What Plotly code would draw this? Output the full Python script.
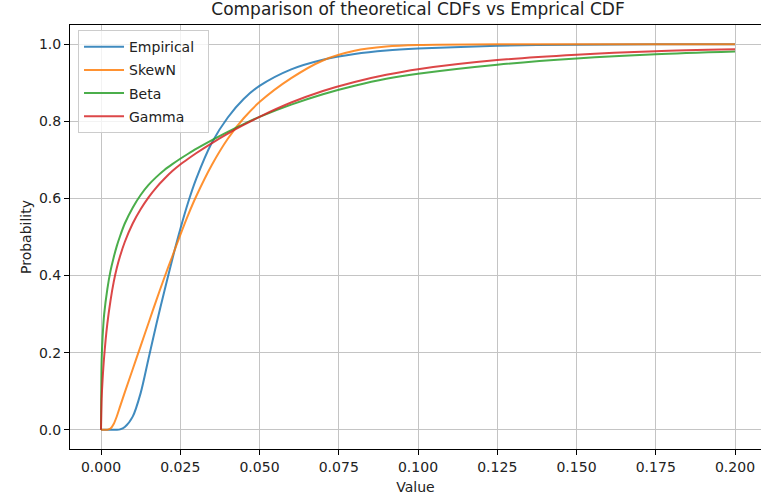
import plotly.graph_objects as go

# x grid (Value)
values = [0, 0.0002, 0.0005, 0.001, 0.002, 0.003, 0.004, 0.005, 0.006, 0.0075,
          0.01, 0.0125, 0.015, 0.0175, 0.02, 0.0225, 0.025, 0.0275, 0.03, 0.035,
          0.04, 0.045, 0.05, 0.06, 0.07, 0.08, 0.09, 0.1, 0.125, 0.15, 0.175, 0.2]

empirical = [0, 0, 0, 0, 0, 0, 0, 0, 0.001, 0.007,
             0.034, 0.095, 0.185, 0.275, 0.36, 0.4425, 0.52, 0.59, 0.65, 0.745,
             0.81, 0.858, 0.892, 0.935, 0.96, 0.975, 0.984, 0.989, 0.996, 0.999, 1.0, 1.0]

skewn = [0, 0, 0, 0, 0, 0.003, 0.015, 0.035, 0.06, 0.097,
         0.157, 0.217, 0.277, 0.337, 0.395, 0.45, 0.505, 0.5575, 0.605, 0.6875,
         0.755, 0.808, 0.85, 0.912, 0.958, 0.983, 0.994, 0.998, 1.0, 1.0, 1.0, 1.0]

beta = [0, 0.18, 0.24, 0.3, 0.365, 0.412, 0.447, 0.477, 0.502, 0.535,
        0.576, 0.609, 0.635, 0.656, 0.674, 0.689, 0.703, 0.716, 0.7285, 0.7515,
        0.773, 0.793, 0.8115, 0.8435, 0.8705, 0.8925, 0.9105, 0.9235, 0.947, 0.963, 0.974, 0.981]

gamma = [0, 0.08, 0.13, 0.19, 0.275, 0.335, 0.383, 0.42, 0.45, 0.487,
         0.535, 0.572, 0.603, 0.629, 0.651, 0.671, 0.688, 0.703, 0.7173, 0.7438,
         0.7683, 0.7908, 0.8118, 0.8488, 0.8788, 0.9023, 0.9208, 0.9353, 0.959, 0.973, 0.982, 0.987]

series_names = ["Empirical", "SkewN", "Beta", "Gamma"]
series_values = [empirical, skewn, beta, gamma]
colors = ["#1f77b4", "#ff7f0e", "#2ca02c", "#d62728"]

x_ticks = [0, 0.025, 0.05, 0.075, 0.1, 0.125, 0.15, 0.175, 0.2]
y_ticks = [0.0, 0.2, 0.4, 0.6, 0.8, 1.0]

FONT = "DejaVu Sans"
TXT = "#222222"

fig = go.Figure()
for name, ys, c in zip(series_names, series_values, colors):
    label = name + "\u00a0\u00a0" if name == "Empirical" else name
    fig.add_trace(go.Scatter(
        x=values, y=ys, mode="lines", name=label, legendgroup=name,
        line=dict(color=c, width=2, shape="spline", smoothing=0.8),
        opacity=0.85,
    ))

fig.update_layout(
    width=761, height=504,
    margin=dict(l=70, r=0, t=25, b=55),
    paper_bgcolor="white", plot_bgcolor="white",
    font=dict(family=FONT, size=14, color=TXT),
    title=dict(text="Comparison of theoretical CDFs vs Emprical CDF",
               font=dict(family=FONT, size=17, color=TXT),
               x=0.5036, xref="paper", xanchor="center",
               y=0.982, yref="container", yanchor="middle"),
    legend=dict(x=0.0116, y=0.988, xanchor="left", yanchor="top",
                bgcolor="rgba(255,255,255,0.8)", bordercolor="#cccccc",
                borderwidth=1, font=dict(family=FONT, size=14, color=TXT),
                itemwidth=40, tracegroupgap=2),
    showlegend=True,
)

fig.update_xaxes(
    range=[-0.00978, 0.2082], tickvals=x_ticks, tickformat=".3f",
    showgrid=True, gridcolor="#c4c4c4", gridwidth=1, zeroline=False,
    showline=True, linecolor="black", linewidth=1, mirror=True,
    ticks="outside", ticklen=5, tickcolor="black", tickwidth=1,
    title=dict(text="Value", standoff=8, font=dict(family=FONT, size=14, color=TXT)),
)
fig.update_yaxes(
    range=[-0.05, 1.05], tickvals=y_ticks, tickformat=".1f",
    showgrid=True, gridcolor="#c4c4c4", gridwidth=1, zeroline=False,
    showline=True, linecolor="black", linewidth=1, mirror=False,
    ticks="outside", ticklen=5, tickcolor="black", tickwidth=1,
    title=dict(text="Probability", standoff=4, font=dict(family=FONT, size=14, color=TXT)),
)

fig.write_html("out.html")
